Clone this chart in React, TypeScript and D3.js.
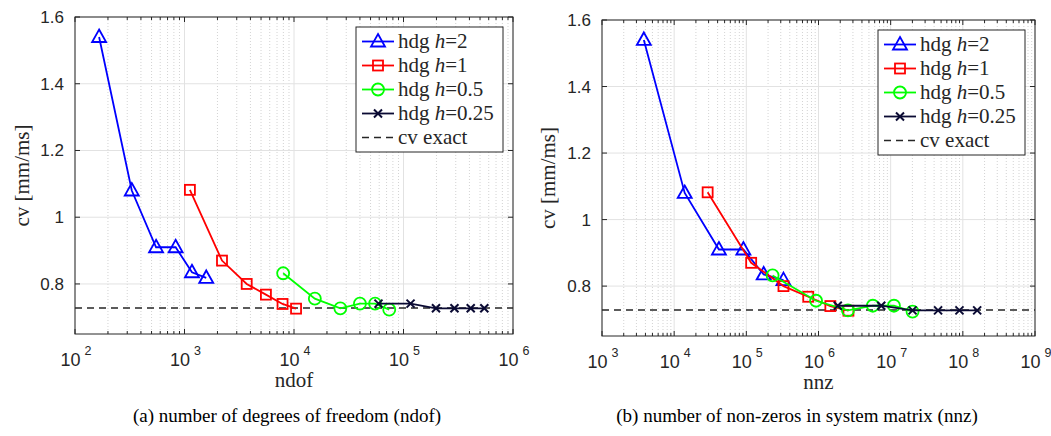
import React, { useEffect, useRef } from 'react';
import * as d3 from 'd3';

// cv values per mesh size (same for both panels)
const cvH2 = [1.54, 1.08, 0.91, 0.91, 0.835, 0.818];
const cvH1 = [1.082, 0.87, 0.8, 0.768, 0.74, 0.726];
const cvH05 = [0.832, 0.756, 0.727, 0.741, 0.741, 0.723];
const cvH025 = [0.741, 0.741, 0.727, 0.727, 0.727, 0.727];
const cvExact = 0.728;

// (a) number of degrees of freedom
const ndofH2 = [166, 330, 550, 830, 1170, 1580];
const ndofH1 = [1120, 2200, 3700, 5540, 7860, 10440];
const ndofH05 = [7960, 15500, 26500, 40000, 55000, 74100];
const ndofH025 = [59100, 116000, 198000, 292000, 411000, 547000];

// (b) number of non-zeros in system matrix
const nnzH2 = [3800, 14000, 41700, 91000, 174000, 327000];
const nnzH1 = [29100, 116700, 327000, 721000, 1460000, 2600000];
const nnzH05 = [231000, 925000, 2560000, 5660000, 11100000, 20100000];
const nnzH025 = [1850000, 7410000, 20100000, 45400000, 89800000, 158000000];

const hLabels = ['2', '1', '0.5', '0.25'];
const seriesColors = ['#0000ff', '#ff0000', '#00ff00', '#0a0a33'];
const seriesMarkers = ['triangle', 'square', 'circle', 'cross'];
const yTicks = [0.8, 1, 1.2, 1.4, 1.6];
const yDomain = [0.65, 1.6];

const AXIS_COLOR = '#262626';
const SANS = '"Liberation Sans", Arial, sans-serif';
const SERIF = '"Liberation Serif", "Times New Roman", serif';

interface Panel {
  left: number;
  right: number;
  top: number;
  bottom: number;
  xDomain: [number, number];
  xs: number[][];
  xLabel: string;
  yLabelX: number;
  caption: string;
  captionX: number;
}

const panels: Panel[] = [
  {
    left: 75, right: 513, top: 17, bottom: 334,
    xDomain: [1e2, 1e6],
    xs: [ndofH2, ndofH1, ndofH05, ndofH025],
    xLabel: 'ndof',
    yLabelX: 23,
    caption: '(a) number of degrees of freedom (ndof)',
    captionX: 287,
  },
  {
    left: 602, right: 1035, top: 20, bottom: 336,
    xDomain: [1e3, 1e9],
    xs: [nnzH2, nnzH1, nnzH05, nnzH025],
    xLabel: 'nnz',
    yLabelX: 549,
    caption: '(b) number of non-zeros in system matrix (nnz)',
    captionX: 797,
  },
];

const drawMarker = (g: any, type: string, x: number, y: number, color: string) => {
  if (type === 'triangle') {
    g.append('path')
      .attr('d', `M${x},${y - 7.5}L${x + 7},${y + 5}L${x - 7},${y + 5}Z`)
      .attr('fill', 'none').attr('stroke', color).attr('stroke-width', 1.8);
  } else if (type === 'square') {
    g.append('rect')
      .attr('x', x - 5).attr('y', y - 5).attr('width', 10).attr('height', 10)
      .attr('fill', 'none').attr('stroke', color).attr('stroke-width', 1.8);
  } else if (type === 'circle') {
    g.append('circle')
      .attr('cx', x).attr('cy', y).attr('r', 6)
      .attr('fill', 'none').attr('stroke', color).attr('stroke-width', 1.8);
  } else {
    g.append('path')
      .attr('d', `M${x - 4},${y - 4}L${x + 4},${y + 4}M${x - 4},${y + 4}L${x + 4},${y - 4}`)
      .attr('fill', 'none').attr('stroke', color).attr('stroke-width', 2);
  }
};

export default function App() {
  const svgRef = useRef<SVGSVGElement>(null);

  useEffect(() => {
    if (!svgRef.current) return;
    const svg = d3.select(svgRef.current);
    svg.selectAll('*').remove();

    panels.forEach(p => {
      const xScale = d3.scaleLog().domain(p.xDomain).range([p.left, p.right]);
      const yScale = d3.scaleLinear().domain(yDomain).range([p.bottom, p.top]);
      const g = svg.append('g');

      const lo = Math.log10(p.xDomain[0]);
      const hi = Math.log10(p.xDomain[1]);
      const majors: number[] = [];
      const minors: number[] = [];
      for (let e = lo; e <= hi; e++) {
        majors.push(Math.pow(10, e));
        if (e < hi) for (let k = 2; k <= 9; k++) minors.push(k * Math.pow(10, e));
      }

      // minor grid (dotted)
      g.selectAll(null).data(minors).enter().append('line')
        .attr('x1', d => xScale(d)).attr('x2', d => xScale(d))
        .attr('y1', p.top).attr('y2', p.bottom)
        .attr('stroke', '#c8c8c8').attr('stroke-width', 0.8).attr('stroke-dasharray', '1,2');

      // major grid
      g.selectAll(null).data(majors).enter().append('line')
        .attr('x1', d => xScale(d)).attr('x2', d => xScale(d))
        .attr('y1', p.top).attr('y2', p.bottom)
        .attr('stroke', '#e2e2e2').attr('stroke-width', 1);
      g.selectAll(null).data(yTicks).enter().append('line')
        .attr('x1', p.left).attr('x2', p.right)
        .attr('y1', d => yScale(d)).attr('y2', d => yScale(d))
        .attr('stroke', '#e2e2e2').attr('stroke-width', 1);

      // exact value
      g.append('line')
        .attr('x1', p.left).attr('x2', p.right)
        .attr('y1', yScale(cvExact)).attr('y2', yScale(cvExact))
        .attr('stroke', AXIS_COLOR).attr('stroke-width', 1.5).attr('stroke-dasharray', '7,5');

      const cvs = [cvH2, cvH1, cvH05, cvH025];
      const line = d3.line<[number, number]>()
        .x(d => xScale(d[0]))
        .y(d => yScale(d[1]));

      p.xs.forEach((xs, i) => {
        const pts = xs.map((x, j) => [x, cvs[i][j]] as [number, number]);
        g.append('path')
          .datum(pts)
          .attr('fill', 'none')
          .attr('stroke', seriesColors[i])
          .attr('stroke-width', 1.8)
          .attr('d', line);
        pts.forEach(d => drawMarker(g, seriesMarkers[i], xScale(d[0]), yScale(d[1]), seriesColors[i]));
      });

      // frame
      g.append('rect')
        .attr('x', p.left).attr('y', p.top)
        .attr('width', p.right - p.left).attr('height', p.bottom - p.top)
        .attr('fill', 'none').attr('stroke', AXIS_COLOR).attr('stroke-width', 1);

      // ticks on all four sides
      majors.forEach(d => {
        const x = xScale(d);
        g.append('line').attr('x1', x).attr('x2', x).attr('y1', p.bottom).attr('y2', p.bottom - 5).attr('stroke', AXIS_COLOR);
        g.append('line').attr('x1', x).attr('x2', x).attr('y1', p.top).attr('y2', p.top + 5).attr('stroke', AXIS_COLOR);
      });
      minors.forEach(d => {
        const x = xScale(d);
        g.append('line').attr('x1', x).attr('x2', x).attr('y1', p.bottom).attr('y2', p.bottom - 3).attr('stroke', AXIS_COLOR);
        g.append('line').attr('x1', x).attr('x2', x).attr('y1', p.top).attr('y2', p.top + 3).attr('stroke', AXIS_COLOR);
      });
      yTicks.forEach(d => {
        const y = yScale(d);
        g.append('line').attr('x1', p.left).attr('x2', p.left + 5).attr('y1', y).attr('y2', y).attr('stroke', AXIS_COLOR);
        g.append('line').attr('x1', p.right).attr('x2', p.right - 5).attr('y1', y).attr('y2', y).attr('stroke', AXIS_COLOR);
      });

      // tick labels
      g.selectAll(null).data(yTicks).enter().append('text')
        .attr('x', p.left - 11)
        .attr('y', d => yScale(d) + 6)
        .attr('text-anchor', 'end')
        .attr('font-family', SANS)
        .attr('font-size', 17)
        .attr('fill', AXIS_COLOR)
        .text(d => String(d));

      majors.forEach(d => {
        const t = g.append('text')
          .attr('x', xScale(d) + 1)
          .attr('y', p.bottom + 32)
          .attr('text-anchor', 'middle')
          .attr('font-family', SANS)
          .attr('fill', AXIS_COLOR);
        t.append('tspan').attr('font-size', 18).text('10');
        t.append('tspan').attr('font-size', 12.5).attr('dx', 4).attr('dy', -11).text(String(Math.round(Math.log10(d))));
      });

      // axis labels
      g.append('text')
        .attr('x', (p.left + p.right) / 2)
        .attr('y', p.bottom + 53)
        .attr('text-anchor', 'middle')
        .attr('font-family', SERIF)
        .attr('font-size', 21)
        .attr('fill', AXIS_COLOR)
        .text(p.xLabel);

      g.append('text')
        .attr('transform', `translate(${p.yLabelX},${(p.top + p.bottom) / 2}) rotate(-90)`)
        .attr('text-anchor', 'middle')
        .attr('font-family', SERIF)
        .attr('font-size', 21)
        .attr('fill', AXIS_COLOR)
        .attr('dy', 6)
        .text('cv [mm/ms]');

      // legend
      const lw = 147;
      const lh = 125;
      const lx = p.right - 10 - lw;
      const ly = p.top + 10;
      const lg = g.append('g').attr('transform', `translate(${lx},${ly})`);
      lg.append('rect')
        .attr('width', lw).attr('height', lh)
        .attr('fill', '#fff').attr('stroke', AXIS_COLOR).attr('stroke-width', 1);

      hLabels.forEach((h, i) => {
        const cy = 14.5 + i * 24;
        lg.append('line')
          .attr('x1', 6).attr('x2', 38).attr('y1', cy).attr('y2', cy)
          .attr('stroke', seriesColors[i]).attr('stroke-width', 1.8);
        drawMarker(lg, seriesMarkers[i], 22, cy, seriesColors[i]);
        const t = lg.append('text')
          .attr('x', 42).attr('y', cy + 6)
          .attr('font-family', SERIF).attr('font-size', 21).attr('fill', AXIS_COLOR);
        t.append('tspan').text('hdg ');
        t.append('tspan').attr('font-style', 'italic').text('h');
        t.append('tspan').text('=' + h);
      });
      const ey = 14.5 + 4 * 24;
      lg.append('line')
        .attr('x1', 6).attr('x2', 38).attr('y1', ey).attr('y2', ey)
        .attr('stroke', AXIS_COLOR).attr('stroke-width', 1.5).attr('stroke-dasharray', '7,5');
      lg.append('text')
        .attr('x', 42).attr('y', ey + 6)
        .attr('font-family', SERIF).attr('font-size', 21).attr('fill', AXIS_COLOR)
        .text('cv exact');

      // caption
      svg.append('text')
        .attr('x', p.captionX)
        .attr('y', 422)
        .attr('text-anchor', 'middle')
        .attr('font-family', SERIF)
        .attr('font-size', 19)
        .attr('fill', '#000')
        .text(p.caption);
    });
  }, []);

  return (
    <svg
      ref={svgRef}
      width={1051}
      height={436}
      style={{ position: 'absolute', left: 0, top: 0, background: '#fff', display: 'block' }}
    />
  );
}
